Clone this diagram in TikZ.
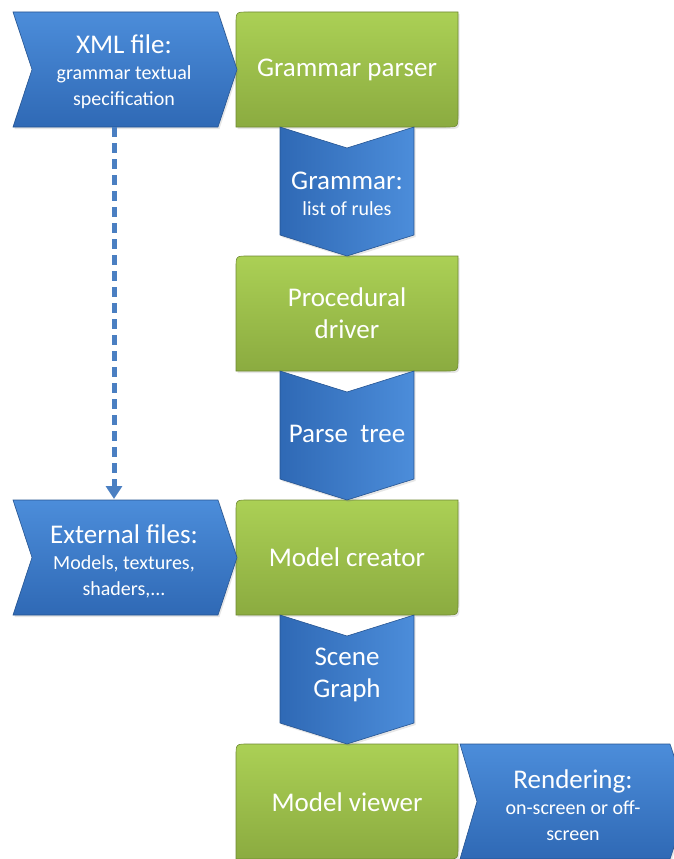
\documentclass[tikz,border=0pt]{standalone}
\usepackage{fontspec}
\setmainfont{Carlito}
\usetikzlibrary{arrows.meta,shadows}

\definecolor{bluelight}{HTML}{4C8DDA}
\definecolor{bluedark}{HTML}{2F69B5}
\definecolor{greenlight}{HTML}{ABD055}
\definecolor{greendark}{HTML}{8BAB40}
\definecolor{dashblue}{HTML}{4A7FC2}

\begin{document}
\begin{tikzpicture}[x=1pt, y=-1pt,
    softshadow/.style={drop shadow={opacity=0.2, shadow xshift=1.5pt, shadow yshift=-2pt}},
    greenbox/.style={top color=greenlight, bottom color=greendark, draw=greendark!80!black, line width=0.6pt, softshadow},
    hchevron/.style={top color=bluelight, bottom color=bluedark, draw=bluedark!80!black, line width=0.6pt, softshadow},
    vchevron/.style={left color=bluedark, right color=bluelight, draw=bluedark!80!black, line width=0.6pt, softshadow},
    bigtxt/.style={text=white, align=center, font=\fontsize{27}{32}\selectfont},
    smalltxt/.style={text=white, align=center, font=\fontsize{20}{26}\selectfont}
]
    \useasboundingbox (0,0) rectangle (673,859);

    % green boxes
    \foreach \t in {12,256,500,744} {
        \path[greenbox] (236,\t+115) -- (236,\t+12) .. controls (236,\t) .. (248,\t)
            -- (458,\t) -- (458,\t+103) .. controls (458,\t+115) .. (446,\t+115) -- cycle;
    }

    % vertical chevrons
    \foreach \t in {127,371,615} {
        \path[vchevron] (280,\t) -- (347,\t+21) -- (414,\t) -- (414,\t+108)
            -- (347,\t+129) -- (280,\t+108) -- cycle;
    }

    % horizontal chevrons
    \path[hchevron] (13,12) -- (218,12) -- (237,69.5) -- (218,127) -- (13,127) -- (32,69.5) -- cycle;
    \path[hchevron] (13,500) -- (218,500) -- (237,557.5) -- (218,615) -- (13,615) -- (32,557.5) -- cycle;
    \path[hchevron] (460,744) -- (670,744) -- (689,801.5) -- (670,859) -- (460,859) -- (477,801.5) -- cycle;

    % texts
    \node[smalltxt] (xml) at (124,72) {{\fontsize{27}{34}\selectfont XML file:}\\grammar textual\\specification};
    \node[bigtxt] (parser) at (347,70) {Grammar parser};
    \node[smalltxt] (grammar) at (347,194) {{\fontsize{27}{34}\selectfont Grammar:}\\list of rules};
    \node[bigtxt] (driver) at (347,313) {Procedural\\driver};
    \node[bigtxt] (tree) at (347,434) {Parse\ \ tree};
    \node[smalltxt] (external) at (124,561) {{\fontsize{27}{34}\selectfont External files:}\\Models, textures,\\shaders,...};
    \node[bigtxt] (creator) at (347,557) {Model creator};
    \node[bigtxt] (scene) at (347,675) {Scene\\Graph};
    \node[bigtxt] (viewer) at (347,802) {Model viewer};
    \node[smalltxt] (render) at (573,805) {{\fontsize{27}{34}\selectfont Rendering:}\\on-screen or off-\\screen};

    % dashed link
    \coordinate (xmlfoot) at (114,127);
    \coordinate (exthead) at (114,499);
    \draw[dashblue, line width=5pt, dash pattern=on 10pt off 6pt,
        -{Triangle[width=16pt,length=13pt]}] (xmlfoot) -- (exthead);
\end{tikzpicture}
\end{document}
